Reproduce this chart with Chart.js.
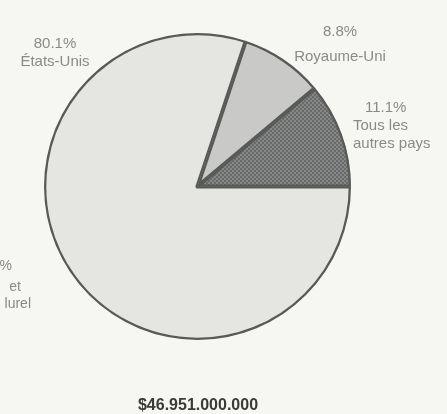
<!DOCTYPE html>
<html>
<head>
<meta charset="utf-8">
<script src="https://cdn.jsdelivr.net/npm/chart.js@4"></script>
<style>
  html, body { margin: 0; padding: 0; background: #f6f6f2; }
  #wrap { width: 447px; height: 414px; position: relative; overflow: hidden; }
</style>
</head>
<body>
<div id="wrap"><canvas id="pieChart" width="447" height="414"></canvas></div>
<script>
const categories = ['États-Unis', 'Royaume-Uni', 'Tous les autres pays'];
const shares = [80.1, 8.8, 11.1];
const labelLines = [['États-Unis'], ['Royaume-Uni'], ['Tous les', 'autres pays']];
const totalLabel = '$46.951.000.000';
// fragments of the neighbouring chart cut off at the left edge
const strayLines = ['%', 'et', 'lurel'];

function stipple() {
    const c = document.createElement('canvas');
    c.width = 4; c.height = 4;
    const g = c.getContext('2d');
    g.fillStyle = '#868887';
    g.fillRect(0, 0, 4, 4);
    g.fillStyle = '#686a69';
    g.fillRect(0, 0, 2, 2);
    g.fillRect(2, 2, 2, 2);
    return g.createPattern(c, 'repeat');
}

// label anchors (text only, not marks)
const labelPos = [
    { x: 55, y: 44, gap: 18, align: 'center' },
    { x: 340, y: 32, gap: 25, align: 'center' },
    { x: 353, y: 108, gap: 18, align: 'left' }
];

const textPlugin = {
    id: 'pieText',
    afterDraw(chart) {
        const ctx = chart.ctx;
        ctx.save();
        ctx.textBaseline = 'middle';
        ctx.font = '15px "Liberation Sans", Arial, sans-serif';
        ctx.fillStyle = '#8a8a88';
        shares.forEach((v, i) => {
            const p = labelPos[i];
            ctx.textAlign = p.align;
            const pct = v.toFixed(1) + '%';
            ctx.fillText(pct, i === 2 ? p.x + 12 : p.x, p.y);
            labelLines[i].forEach((line, j) => {
                ctx.fillText(line, p.x, p.y + p.gap + 18 * j);
            });
        });
        ctx.textAlign = 'right';
        ctx.font = '14px "Liberation Sans", Arial, sans-serif';
        ctx.fillText(strayLines[0], 12, 266);
        ctx.fillText(strayLines[1], 21, 287);
        ctx.fillText(strayLines[2], 31, 304);
        ctx.textAlign = 'center';
        ctx.font = 'bold 16px "Liberation Sans", Arial, sans-serif';
        ctx.fillStyle = '#3a3a3a';
        ctx.fillText(totalLabel, 198, 406);
        ctx.restore();
    }
};

const ctx = document.getElementById('pieChart').getContext('2d');
new Chart(ctx, {
    type: 'pie',
    data: {
        labels: categories,
        datasets: [{
            data: shares,
            backgroundColor: ['#e5e5e2', '#c9cac8', stipple()],
            borderColor: '#585a58',
            borderWidth: 2,
            borderAlign: 'inner'
        }]
    },
    options: {
        responsive: false,
        animation: false,
        rotation: 90,
        layout: { padding: { left: 44, top: 32, right: 96, bottom: 73 } },
        plugins: {
            legend: { display: false },
            tooltip: { enabled: false }
        }
    },
    plugins: [textPlugin]
});
</script>
</body>
</html>
